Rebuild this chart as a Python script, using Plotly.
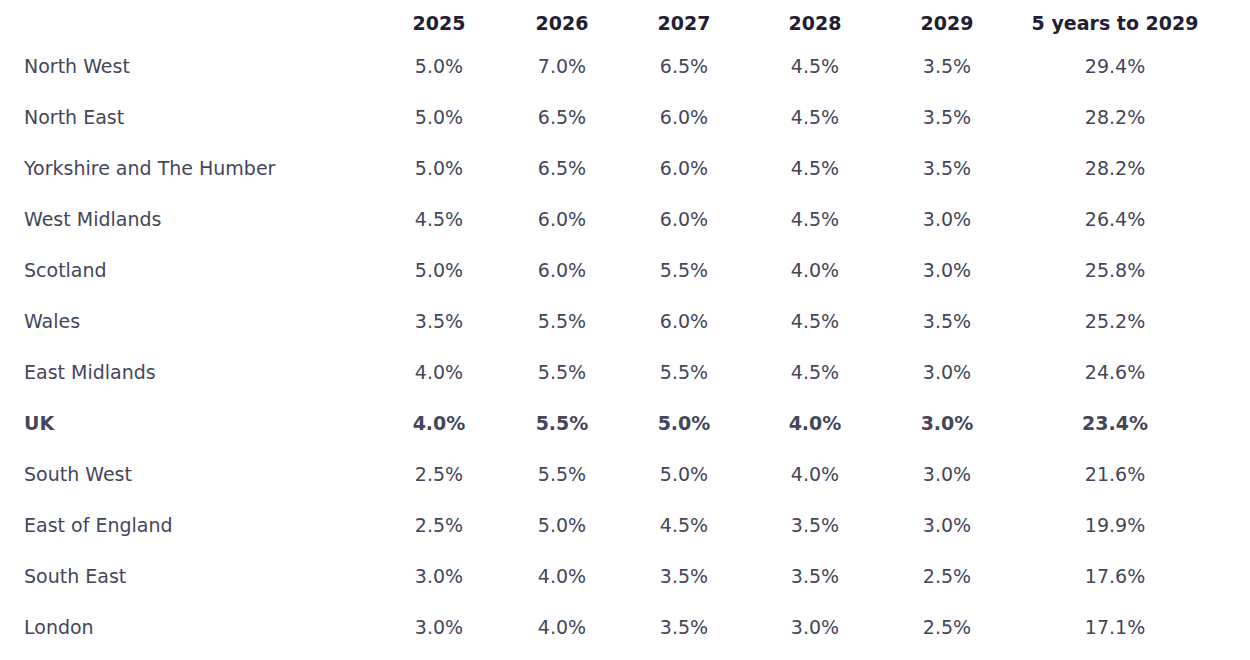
import plotly.graph_objects as go

# Daten
regions = [
    "North West", "North East", "Yorkshire and The Humber", "West Midlands",
    "Scotland", "Wales", "East Midlands", "UK", "South West",
    "East of England", "South East", "London",
]
years = ["2025", "2026", "2027", "2028", "2029", "5 years to 2029"]
g2025 = [5.0, 5.0, 5.0, 4.5, 5.0, 3.5, 4.0, 4.0, 2.5, 2.5, 3.0, 3.0]
g2026 = [7.0, 6.5, 6.5, 6.0, 6.0, 5.5, 5.5, 5.5, 5.5, 5.0, 4.0, 4.0]
g2027 = [6.5, 6.0, 6.0, 6.0, 5.5, 6.0, 5.5, 5.0, 5.0, 4.5, 3.5, 3.5]
g2028 = [4.5, 4.5, 4.5, 4.5, 4.0, 4.5, 4.5, 4.0, 4.0, 3.5, 3.5, 3.0]
g2029 = [3.5, 3.5, 3.5, 3.0, 3.0, 3.5, 3.0, 3.0, 3.0, 3.0, 2.5, 2.5]
g5yr = [29.4, 28.2, 28.2, 26.4, 25.8, 25.2, 24.6, 23.4, 21.6, 19.9, 17.6, 17.1]
highlight = "UK"


def mark(r, s):
    # UK-Zeile fett, alle anderen auch mit Tag damit die Zeilen gleich sitzen
    return f"<b>{s}</b>" if r == highlight else f"<span>{s}</span>"


columns = [[mark(r, r) for r in regions]] + [
    [mark(r, f"{v:.1f}%") for r, v in zip(regions, vals)]
    for vals in [g2025, g2026, g2027, g2028, g2029, g5yr]
]

fig = go.Figure(
    go.Table(
        domain=dict(x=[0, 1206 / 1242], y=[0, 1]),
        columnwidth=[362, 122, 124, 120, 142, 122, 214],
        header=dict(
            values=[""] + years,
            align=["left"] + ["center"] * 6,
            fill_color="white",
            line_color="white",
            font=dict(family="DejaVu Sans", size=19, color="#1f2033", weight=700),
            height=39,
        ),
        cells=dict(
            values=columns,
            align=["left"] + ["center"] * 6,
            fill_color="white",
            line_color="white",
            font=dict(family="DejaVu Sans", size=19, color="#45465a"),
            height=51,
        ),
    )
)

fig.update_layout(
    width=1250,
    height=660,
    margin=dict(l=8, r=0, t=0, b=0),
    paper_bgcolor="white",
)

fig.write_html("out.html")
